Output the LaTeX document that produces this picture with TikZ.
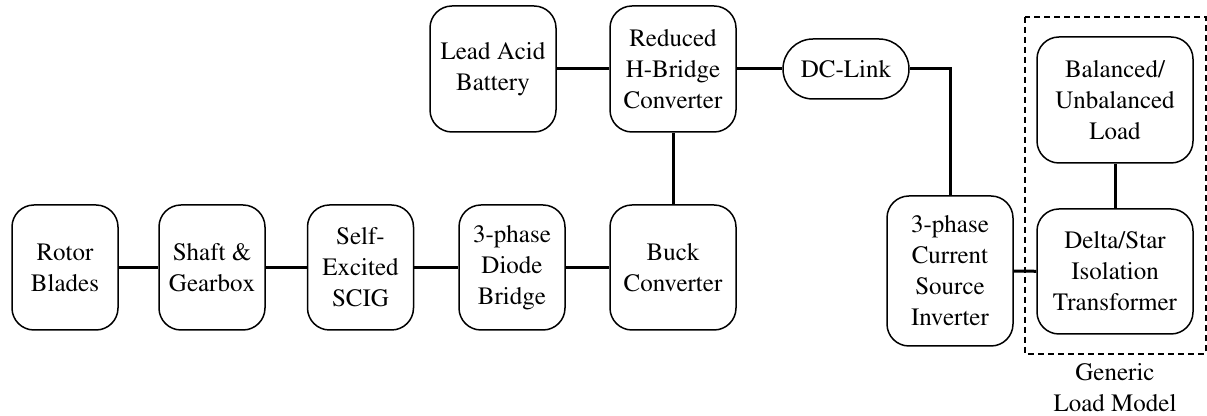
\documentclass[tikz,border=0pt]{standalone}
\usepackage[T1]{fontenc}
\usepackage{mathptmx}
\usepackage{tikz}

\begin{document}
\begin{tikzpicture}[x=0.5pt,y=-0.5pt,
  blk/.style={draw,line width=0.75pt,rounded corners=11pt,align=center,
    inner sep=0pt,minimum width=53pt,minimum height=62.5pt,
    font=\fontsize{12.5pt}{15.5pt}\selectfont},
  wire/.style={line width=1.5pt}]
  \useasboundingbox (0,0) rectangle (1207,416);
  % lower chain
  \node[blk] (rotor) at (65,267.5) {Rotor\\Blades};
  \node[blk] (shaft) at (212,267.5) {Shaft \&\\Gearbox};
  \node[blk] (scig) at (360.5,267.5) {Self-\\Excited\\SCIG};
  \node[blk] (diode) at (512,267.5) {3-phase\\Diode\\Bridge};
  \node[blk,minimum width=63pt] (buck) at (673,267.5) {Buck\\Converter};
  % upper chain
  \node[blk,minimum width=63pt,minimum height=63pt] (battery) at (493,69) {Lead Acid\\Battery};
  \node[blk,minimum width=63pt,minimum height=63pt] (hbridge) at (673,69) {Reduced\\H-Bridge\\Converter};
  \node[blk,rounded corners=15pt,minimum width=63pt,minimum height=30pt] (dclink) at (846,69) {DC-Link};
  \node[blk,minimum width=63pt,minimum height=75pt] (csi) at (950,271) {3-phase\\Current\\Source\\Inverter};
  % load
  \node[blk,minimum width=78pt,minimum height=63pt] (load) at (1115,100) {Balanced/\\Unbalanced\\Load};
  \node[blk,minimum width=78pt] (trafo) at (1115,271.5) {Delta/Star\\Isolation\\Transformer};
  \draw[line width=1pt,dashed,dash pattern=on 3pt off 2pt] (1025,17) rectangle (1205.5,354);
  \node[align=center,font=\fontsize{12.5pt}{15.5pt}\selectfont] (generic) at (1115,388) {Generic\\Load Model};
  % connections
  \draw[wire] (rotor) -- (shaft);
  \draw[wire] (shaft) -- (scig);
  \draw[wire] (scig) -- (diode);
  \draw[wire] (diode) -- (buck);
  \draw[wire] (buck) -- (hbridge);
  \draw[wire] (battery) -- (hbridge);
  \draw[wire] (hbridge) -- (dclink);
  \draw[wire] (dclink.east) -| (csi.north);
  \draw[wire] (csi) -- (trafo);
  \draw[wire] (load) -- (trafo);
\end{tikzpicture}
\end{document}
